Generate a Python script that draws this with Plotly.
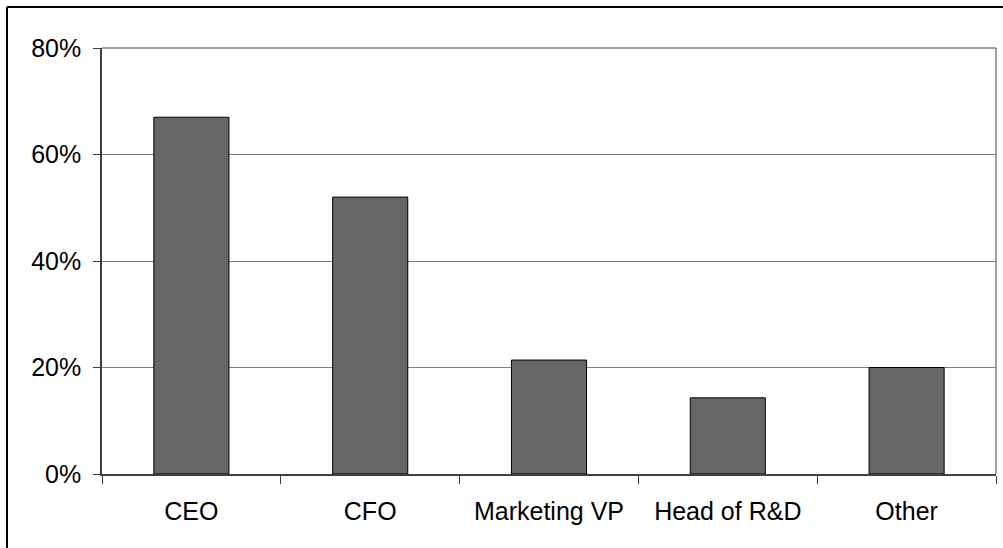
import plotly.graph_objects as go

# Share of respondents by role
roles = ["CEO", "CFO", "Marketing VP", "Head of R&D", "Other"]
shares = [0.67, 0.52, 0.214, 0.143, 0.20]
y_ticks = [0, 0.2, 0.4, 0.6, 0.8]
y_tick_labels = ["0%", "20%", "40%", "60%", "80%"]

W, H = 1003, 548
L, R, T, B = 102, 7, 48, 74
pw, ph = W - L - R, H - T - B

fig = go.Figure(
    go.Bar(
        x=roles,
        y=shares,
        marker=dict(color="#666666", line=dict(color="#000000", width=1)),
        width=0.42,
    )
)

font = dict(family="Liberation Sans, Arial, sans-serif", size=25, color="#000000")

fig.update_layout(
    width=W,
    height=H,
    margin=dict(l=L, r=R, t=T, b=B, pad=0),
    paper_bgcolor="#ffffff",
    plot_bgcolor="#ffffff",
    font=font,
    showlegend=False,
    xaxis=dict(
        type="category",
        range=[-0.5, 4.5],
        showgrid=False,
        showline=True,
        linecolor="#404040",
        linewidth=1.5,
        ticks="outside",
        tickson="boundaries",
        ticklen=8,
        tickcolor="#404040",
        tickwidth=1,
        ticklabelstandoff=14,
        tickfont=font,
    ),
    yaxis=dict(
        range=[0, 0.8],
        tickvals=y_ticks,
        ticktext=y_tick_labels,
        showgrid=True,
        gridcolor="#808080",
        gridwidth=1,
        zeroline=False,
        showline=True,
        linecolor="#404040",
        linewidth=1.5,
        ticks="outside",
        ticklen=7,
        tickcolor="#404040",
        tickwidth=1,
        ticklabelstandoff=7,
        tickfont=font,
    ),
    shapes=[
        # top and right edges of the plot area
        dict(type="line", xref="paper", yref="paper", x0=0, x1=1, y0=1, y1=1,
             line=dict(color="#808080", width=1.5), layer="below"),
        dict(type="line", xref="paper", yref="paper", x0=1, x1=1, y0=0, y1=1,
             line=dict(color="#808080", width=1.5), layer="below"),
        # outer chart frame (left and top edges)
        dict(type="line", xref="paper", yref="paper",
             x0=(7 - L) / pw, x1=(7 - L) / pw,
             y0=-(B + 20) / ph, y1=1 + (T - 7) / ph,
             line=dict(color="#000000", width=2)),
        dict(type="line", xref="paper", yref="paper",
             x0=(7 - L) / pw, x1=1 + (R + 20) / pw,
             y0=1 + (T - 7) / ph, y1=1 + (T - 7) / ph,
             line=dict(color="#000000", width=2)),
    ],
)

fig.write_html("out.html")
